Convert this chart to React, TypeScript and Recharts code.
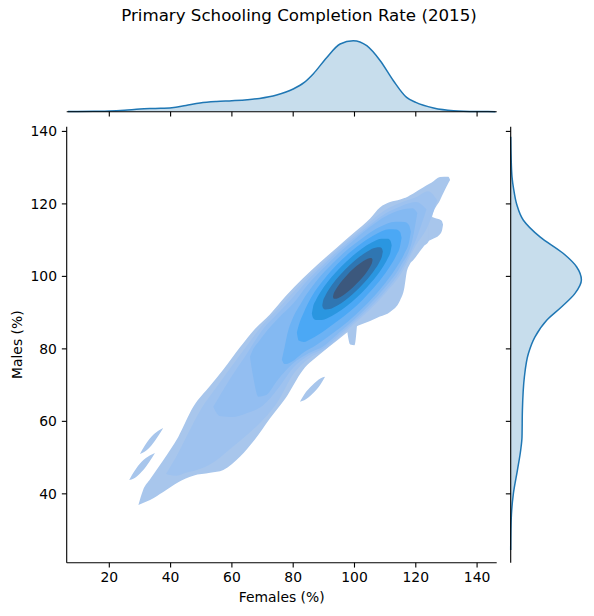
import React from 'react';
import { ComposedChart, AreaChart, Area, XAxis, YAxis } from 'recharts';

const FONT = "'DejaVu Sans', sans-serif";

const FEMALES_TICKS = [20, 40, 60, 80, 100, 120, 140];
const MALES_TICKS = [40, 60, 80, 100, 120, 140];
const X_DOMAIN: [number, number] = [6.1, 146.4];
const Y_DOMAIN: [number, number] = [21, 141.3];

// top marginal density (females), arbitrary units
const TOP_X = [6.5, 15, 20, 25, 30, 35, 40.4, 45, 49.6, 55, 60, 65, 69, 74.6, 80, 83.5, 86.6, 90.9, 95.3, 99.6, 104, 108.4, 112.7, 117, 120, 125.8, 132.3, 140, 146];
const TOP_D = [0.1, 0.4, 0.7, 1.5, 2.7, 3.3, 4.0, 6.3, 8.7, 10.2, 11, 12, 13.3, 16.7, 22.7, 29, 38, 54, 67.7, 71, 66, 51, 31, 14.3, 9.3, 3.7, 1, 0.2, 0.05];

// right marginal density (males), arbitrary units
const RIGHT_Y = [24.5, 30, 35.5, 40.1, 46.5, 52.1, 55.7, 63.1, 72.3, 78.7, 83.3, 87.9, 91.6, 95.3, 99, 102.6, 106.3, 110.9, 115.5, 119.9, 124, 127.5, 133, 138.5];
const RIGHT_D = [0, 0.2, 1, 2.7, 6.7, 10, 11.3, 11.7, 13.7, 17.7, 24.3, 36, 51, 64.3, 70.7, 66, 52.7, 29.3, 12.7, 6, 3, 1.3, 0.4, 0];

// contour level 1 (outermost)
const L1_X = [29.5, 31, 33.3, 37.6, 42.5, 47.4, 52.9, 57.2, 62.7, 67.5, 72.4, 77.5, 83.2, 88.7, 94.3, 100, 105.1, 108.3, 111.6, 114.9, 116.3, 117, 118, 119.2, 122.5, 124.3, 125.2, 127.9, 130.6, 131.2];
const L1_LO = [36.9, 37.5, 38.3, 40.5, 43.2, 45.0, 45.8, 46.6, 50.3, 55, 60.8, 66.4, 74.2, 78.5, 82.3, 85.9, 87.7, 88.9, 90.2, 93.4, 97, 101, 103.3, 104.5, 108.2, 109.8, 116, 121, 125.7, 126.6];
const L1_HI = [36.9, 41, 44, 49.3, 55.7, 64.0, 69.8, 74.3, 80.5, 85.5, 89.5, 94.5, 99.5, 103.8, 108.0, 112.2, 116.0, 119.0, 120.5, 121.2, 121.6, 121.8, 122.3, 122.9, 124.6, 125.5, 125.9, 127.4, 127.5, 126.6];
const L1_LOBE_X = [124.3, 126, 127.4, 128.5, 128.9];
const L1_LOBE_LO = [109.8, 110.5, 111.2, 112.5, 114.3];
const L1_LOBE_HI = [116.8, 116.2, 115.8, 115.3, 114.3];
const L1_TOOTH_X = [97.6, 98.6, 100.0, 100.8];
const L1_TOOTH_LO = [85.0, 81.2, 81.0, 86.3];
const L1_TOOTH_HI = [85.5, 86.0, 86.6, 86.6];
const ISLAND_A_X = [30.0, 31.5, 33.8, 36.0, 37.6];
const ISLAND_A_LO = [51.0, 51.6, 53.4, 56.0, 58.2];
const ISLAND_A_HI = [51.0, 53.2, 55.8, 57.4, 58.2];
const ISLAND_B_X = [26.5, 28, 30.7, 33.2, 34.9];
const ISLAND_B_LO = [43.8, 44.2, 46.2, 49.0, 51.3];
const ISLAND_B_HI = [43.8, 46.0, 49.0, 50.6, 51.3];
const ISLAND_C_X = [82.2, 83.6, 86.3, 89, 90.4];
const ISLAND_C_LO = [65.4, 65.8, 67.6, 70.3, 72.3];
const ISLAND_C_HI = [65.4, 67.4, 70.0, 71.9, 72.3];

const L2_X = [38.5, 42, 45, 50, 55, 60, 65, 70, 75, 80, 85, 90, 95, 100, 105, 110, 115, 120, 124, 127];
const L2_LO = [45.5, 45, 45.8, 47, 49.3, 52.8, 56.3, 60.3, 65.5, 73, 77.3, 79.6, 83.2, 87, 90.8, 95.3, 100.5, 108.5, 114, 121];
const L2_HI = [45.5, 50.5, 55.5, 63.5, 69.5, 75.3, 81, 86.6, 91, 95.6, 100.1, 104, 108, 111.4, 115, 118.3, 120.3, 121.8, 123.5, 121];

const L3_X = [53.9, 56, 60, 65, 70, 75, 80, 85, 90, 95, 100, 105, 110, 115, 120, 123.5];
const L3_LO = [64, 61.5, 61.2, 62.3, 64.3, 69, 74.8, 78.2, 80.2, 83.8, 87.6, 91.5, 96, 101.5, 110, 118.5];
const L3_HI = [64, 67, 72.5, 78.8, 85.3, 89.8, 94.3, 99.2, 103.3, 107.3, 110.8, 114.2, 117.3, 119.3, 120.5, 118.5];

const L4_X = [65.9, 67, 68.6, 71, 75, 80, 85, 90, 95, 100, 105, 110, 115, 119, 120.5];
const L4_LO = [77.8, 72, 66.8, 67.2, 71.5, 76, 78.8, 80.8, 84.5, 88.2, 92.3, 97, 102.8, 110.5, 117.5];
const L4_HI = [77.8, 80, 81.8, 84.5, 88.3, 92.5, 98, 102.4, 106.5, 110.2, 113.6, 116.5, 118.3, 118.8, 117.5];

const L5_X = [76.3, 77.2, 78.21, 79.64, 82.7, 87.8, 92.9, 98.0, 103.1, 108.2, 113.3, 116.36, 117.79, 118.4];
const L5_LO = [77.0, 75.8, 75.9, 76.5, 78.6, 81.2, 84.3, 87.63, 91.59, 96.24, 101.96, 106.42, 109.41, 112.31];
const L5_HI = [77.0, 80.5, 84.5, 88.0, 92.8, 98.9, 103.6, 107.6, 110.9, 113.6, 115.1, 115.0, 114.1, 112.31];

const L6_X = [81.2, 81.8, 83.43, 85.95, 90.15, 94.36, 98.56, 102.76, 106.97, 111.17, 113.69, 114.87, 115.37];
const L6_LO = [84.5, 82.3, 81.9, 82.8, 85.0, 87.59, 90.36, 93.65, 97.52, 102.22, 105.87, 108.3, 110.64];
const L6_HI = [84.5, 86.5, 90.0, 94.3, 99.3, 103.35, 106.64, 109.41, 111.62, 112.98, 112.97, 112.26, 110.64];

const L7_X = [86.09, 86.48, 87.39, 89.34, 92.6, 95.85, 99.11, 102.37, 105.62, 108.88, 110.83, 111.74, 112.13];
const L7_LO = [89.76, 88.52, 87.97, 87.97, 89.05, 90.77, 92.93, 95.49, 98.49, 102.13, 104.95, 106.82, 108.62];
const L7_HI = [89.76, 91.56, 93.43, 96.25, 99.89, 102.89, 105.45, 107.61, 109.33, 110.41, 110.41, 109.86, 108.62];

const L8_X = [89.48, 89.78, 90.47, 91.95, 94.42, 96.9, 99.37, 101.84, 104.32, 106.79, 108.27, 108.96, 109.26];
const L8_LO = [92.04, 91.2, 90.87, 90.99, 91.94, 93.34, 95.05, 97.04, 99.34, 102.09, 104.19, 105.54, 106.84];
const L8_HI = [92.04, 93.34, 94.69, 96.79, 99.54, 101.84, 103.83, 105.54, 106.94, 107.89, 108.01, 107.68, 106.84];

const L9_X = [92.98, 93.17, 93.63, 94.59, 96.21, 97.82, 99.44, 101.06, 102.67, 104.29, 105.25, 105.71, 105.9];
const L9_LO = [94.39, 93.93, 93.81, 93.99, 94.75, 95.74, 96.93, 98.28, 99.79, 101.57, 102.89, 103.73, 104.49];
const L9_HI = [94.39, 95.15, 95.99, 97.31, 99.09, 100.6, 101.95, 103.14, 104.13, 104.89, 105.07, 104.95, 104.49];

const LEVEL_COLORS = ['#a8c6ec', '#9ec2ef', '#93bef1', '#84b9f2', '#6cb2f4', '#4ba8f5', '#2a96e0', '#2f76b2', '#3c587d'];

const band = (xs: number[], lo: number[], hi: number[]) => xs.map((x, i) => ({ x, r: [lo[i], hi[i]] }));

const BANDS: { key: string; data: { x: number; r: number[] }[]; color: string; linear?: boolean }[] = [
  { key: 'l1', data: band(L1_X, L1_LO, L1_HI), color: LEVEL_COLORS[0] },
  { key: 'l1lobe', data: band(L1_LOBE_X, L1_LOBE_LO, L1_LOBE_HI), color: LEVEL_COLORS[0] },
  { key: 'l1tooth', data: band(L1_TOOTH_X, L1_TOOTH_LO, L1_TOOTH_HI), color: LEVEL_COLORS[0] },
  { key: 'ia', data: band(ISLAND_A_X, ISLAND_A_LO, ISLAND_A_HI), color: LEVEL_COLORS[0] },
  { key: 'ib', data: band(ISLAND_B_X, ISLAND_B_LO, ISLAND_B_HI), color: LEVEL_COLORS[0] },
  { key: 'ic', data: band(ISLAND_C_X, ISLAND_C_LO, ISLAND_C_HI), color: LEVEL_COLORS[0] },
  { key: 'l2', data: band(L2_X, L2_LO, L2_HI), color: LEVEL_COLORS[1] },
  { key: 'l3', data: band(L3_X, L3_LO, L3_HI), color: LEVEL_COLORS[2] },
  { key: 'l4', data: band(L4_X, L4_LO, L4_HI), color: LEVEL_COLORS[3] },
  { key: 'l5', data: band(L5_X, L5_LO, L5_HI), color: LEVEL_COLORS[4] },
  { key: 'l6', data: band(L6_X, L6_LO, L6_HI), color: LEVEL_COLORS[5] },
  { key: 'l7', data: band(L7_X, L7_LO, L7_HI), color: LEVEL_COLORS[6] },
  { key: 'l8', data: band(L8_X, L8_LO, L8_HI), color: LEVEL_COLORS[7] },
  { key: 'l9', data: band(L9_X, L9_LO, L9_HI), color: LEVEL_COLORS[8] },
];

const topData = TOP_X.map((x, i) => ({ x, d: TOP_D[i] }));
const rightData = RIGHT_Y.map((y, i) => ({ y, w: RIGHT_D[i] }));

const TICK_STYLE = { fill: '#000', fontSize: 13.9, fontFamily: FONT };
const LINE = { stroke: '#000', strokeWidth: 1.1 };

const NoLabel = () => <g />;

export default function App() {
  return (
    <div style={{ position: 'absolute', left: 0, top: 0, width: 594, height: 616, background: '#fff', fontFamily: FONT }}>
      {/* main joint KDE */}
      <div style={{ position: 'absolute', left: 0, top: 0 }}>
        <ComposedChart width={594} height={616} margin={{ top: 126.7, right: 97.3, bottom: 23.3, left: 6.7 }}>
          <XAxis
            dataKey="x"
            type="number"
            domain={X_DOMAIN}
            ticks={FEMALES_TICKS}
            allowDataOverflow
            height={30}
            tickSize={4.86}
            tickMargin={4.86}
            tick={TICK_STYLE}
            axisLine={LINE}
            tickLine={LINE}
          />
          <YAxis
            type="number"
            domain={Y_DOMAIN}
            ticks={MALES_TICKS}
            allowDataOverflow
            width={60}
            tickSize={4.86}
            tickMargin={4.86}
            tick={TICK_STYLE}
            axisLine={LINE}
            tickLine={LINE}
          />
          {BANDS.map((b) => (
            <Area
              key={b.key}
              data={b.data}
              dataKey="r"
              type={b.linear ? 'linear' : 'monotone'}
              stroke="none"
              fill={b.color}
              fillOpacity={1}
              isAnimationActive={false}
              dot={false}
              activeDot={false}
            />
          ))}
        </ComposedChart>
      </div>

      {/* top marginal */}
      <div style={{ position: 'absolute', left: 0, top: 0 }}>
        <AreaChart width={594} height={130} data={topData} margin={{ top: 24.7, right: 97.3, bottom: 8.3, left: 66.7 }}>
          <XAxis
            dataKey="x"
            type="number"
            domain={X_DOMAIN}
            ticks={FEMALES_TICKS}
            allowDataOverflow
            height={10}
            tickSize={4.86}
            tick={<NoLabel />}
            axisLine={LINE}
            tickLine={LINE}
          />
          <YAxis hide type="number" domain={[0, 87]} />
          <Area
            dataKey="d"
            type="monotone"
            stroke="#1f77b4"
            strokeWidth={1.5}
            fill="#1f77b4"
            fillOpacity={0.25}
            isAnimationActive={false}
            dot={false}
            activeDot={false}
          />
        </AreaChart>
      </div>

      {/* right marginal */}
      <div style={{ position: 'absolute', left: 0, top: 0 }}>
        <AreaChart layout="vertical" width={594} height={616} data={rightData} margin={{ top: 126.7, right: 3.3, bottom: 53.3, left: 500.7 }}>
          <XAxis hide type="number" domain={[0, 80]} />
          <YAxis
            dataKey="y"
            type="number"
            domain={Y_DOMAIN}
            ticks={MALES_TICKS}
            allowDataOverflow
            reversed
            width={10}
            tickSize={4.86}
            tick={<NoLabel />}
            axisLine={LINE}
            tickLine={LINE}
          />
          <Area
            dataKey="w"
            type="monotone"
            stroke="#1f77b4"
            strokeWidth={1.5}
            fill="#1f77b4"
            fillOpacity={0.25}
            isAnimationActive={false}
            dot={false}
            activeDot={false}
          />
        </AreaChart>
      </div>

      {/* titles and axis labels */}
      <svg width={594} height={616} style={{ position: 'absolute', left: 0, top: 0, pointerEvents: 'none' }}>
        <text x={299} y={21} textAnchor="middle" fontSize={16.67} fontFamily={FONT} fill="#000">
          Primary Schooling Completion Rate (2015)
        </text>
        <text x={281.7} y={602} textAnchor="middle" fontSize={13.9} fontFamily={FONT} fill="#000">
          Females (%)
        </text>
        <text x={22} y={344.7} textAnchor="middle" fontSize={13.9} fontFamily={FONT} fill="#000" transform="rotate(-90 22 344.7)">
          Males (%)
        </text>
      </svg>
    </div>
  );
}
